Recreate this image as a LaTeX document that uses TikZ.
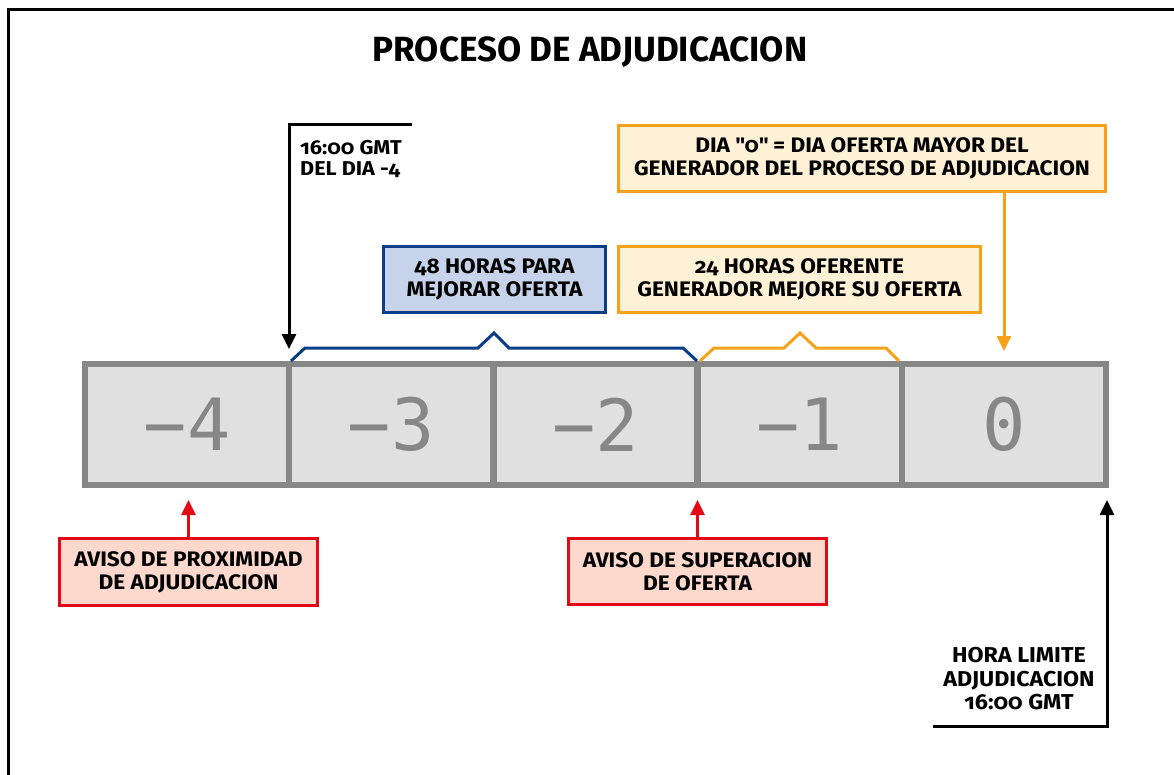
\documentclass[tikz,border=0pt]{standalone}
\usepackage{fontspec}
\setmainfont{Fira Sans}[Numbers=OldStyle, FakeStretch=1.08]
\newfontfamily\titlefont{Fira Sans}
\newfontfamily\daysfont{DejaVu Sans Mono}
\usepackage{xcolor}
\usepackage{tikz}
\usetikzlibrary{arrows.meta, positioning}

\definecolor{daygray}{HTML}{878787}
\definecolor{dayfill}{HTML}{E0E0E0}
\definecolor{blueline}{HTML}{0A3D87}
\definecolor{bluefill}{HTML}{C6D3EA}
\definecolor{orangeline}{HTML}{F7A11A}
\definecolor{orangefill}{HTML}{FEF1D6}
\definecolor{redline}{HTML}{E30A17}
\definecolor{redfill}{HTML}{FCD9CC}

\tikzset{
  day/.style={draw=daygray, fill=dayfill, line width=6.5pt, minimum width=204.2pt,
    minimum height=121pt, inner sep=0pt, text=daygray,
    font=\daysfont\fontsize{72}{72}\selectfont},
  note/.style={line width=3pt, align=center, inner sep=0pt,
    font=\bfseries\fontsize{21}{23}\selectfont},
  bluenote/.style={note, draw=blueline, fill=bluefill},
  orangenote/.style={note, draw=orangeline, fill=orangefill},
  rednote/.style={note, draw=redline, fill=redfill},
  tip/.style={line width=3pt, -{Triangle[length=15pt,width=14pt]}},
  brace/.style={line width=3pt}
}

\begin{document}
\begin{tikzpicture}[x=1pt, y=-1pt]
				\useasboundingbox (0,0) rectangle (1174,775);
				\draw[line width=3pt] (8,775) -- (8,10) -- (1174,10);

				\node[font=\titlefont\bfseries\fontsize{35}{35}\selectfont] (title) at (590,52) {PROCESO DE ADJUDICACION};

				% dias del proceso
				\node[day] (d4) at (187.1,424.5) {−4};
				\node[day] (d3) at (391.3,424.5) {−3};
				\node[day] (d2) at (595.5,424.5) {−2};
				\node[day] (d1) at (799.7,424.5) {−1};
				\node[day] (d0) at (1003.9,424.5) {0};

				% cajas de arriba
				\node[orangenote, minimum width=487pt, minimum height=66pt] (dia0) at (862,158.5)
					{DIA \textquotedbl 0\textquotedbl{} = DIA OFERTA MAYOR DEL\\GENERADOR DEL PROCESO DE ADJUDICACION};
				\node[bluenote, minimum width=222pt, minimum height=66pt] (horas48) at (494.5,279.5)
					{48 HORAS PARA\\MEJORAR OFERTA};
				\node[orangenote, minimum width=362pt, minimum height=66pt] (horas24) at (799.5,279.5)
					{24 HORAS OFERENTE\\GENERADOR MEJORE SU OFERTA};

				% cajas de abajo
				\node[rednote, minimum width=258pt, minimum height=67pt] (proximidad) at (188.5,572)
					{AVISO DE PROXIMIDAD\\DE ADJUDICACION};
				\node[rednote, minimum width=258pt, minimum height=66pt] (superacion) at (697.5,571.5)
					{AVISO DE SUPERACION\\DE OFERTA};

				\node[anchor=north west, align=left, inner sep=0pt, font=\bfseries\fontsize{20}{21}\selectfont]
					(gmt) at (300,140) {16:00 GMT\\DEL DIA -4};
				\node[align=center, inner sep=0pt, font=\bfseries\fontsize{21.5}{23.5}\selectfont]
					(limite) at (1019,679) {HORA LIMITE\\ADJUDICACION\\16:00 GMT};

				% llaves
				\draw[brace, blueline] (291,361) -- (305,348) -- (478,348) -- (494,333) -- (509,348) -- (683,348) -- (697,361);
				\draw[brace, orangeline] (700,361) -- (714,348) -- (784,348) -- (800,333) -- (816,348) -- (886,348) -- (899,361);

				% flechas
				\coordinate (gmtstart) at (412,125);
				\coordinate (gmttip) at (289,349);
				\draw[tip] (gmtstart) -| (gmttip);

				\coordinate (zerotip) at (1004,351);
				\draw[tip, orangeline] (dia0.south -| zerotip) -- (zerotip);

				\coordinate (proxtip) at (188.5,500);
				\draw[tip, redline] (proximidad.north) -- (proxtip);
				\coordinate (suptip) at (697.5,500);
				\draw[tip, redline] (superacion.north) -- (suptip);

				\coordinate (limitestart) at (933,726);
				\coordinate (limitetip) at (1107,500);
				\draw[tip] (limitestart) -| (limitetip);
\end{tikzpicture}
\end{document}
